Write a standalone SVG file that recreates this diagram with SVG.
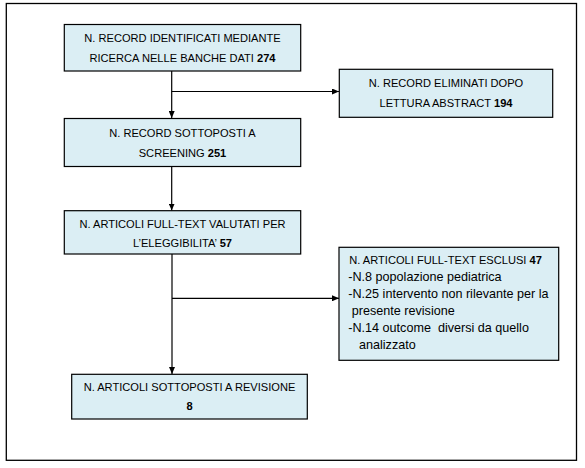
<svg xmlns="http://www.w3.org/2000/svg" width="585" height="468" viewBox="0 0 585 468">
<style>
.box{fill:#DBEEF4;stroke:#000;stroke-width:1.2}
.t{font-family:"Liberation Sans",Arial,sans-serif;font-size:11.1px;fill:#000}
.s{font-size:12.6px}
.c{text-anchor:middle}
.b{font-weight:bold}
.ln{stroke:#000;stroke-width:1.2;fill:none}
</style>
<defs>
<marker id="ah" markerWidth="7" markerHeight="6" refX="7" refY="3" orient="auto" markerUnits="userSpaceOnUse">
<path d="M0,0 L7,3 L0,6 Z" fill="#000"/>
</marker>
</defs>
<rect x="6.3" y="3.5" width="570.2" height="456.8" fill="#fff" stroke="#000" stroke-width="1.3"/>
<g id="connectors">
<line class="ln" x1="171.7" y1="71" x2="171.7" y2="118" marker-end="url(#ah)"/>
<polyline class="ln" points="171.7,91.5 339,91.5" marker-end="url(#ah)"/>
<line class="ln" x1="171.7" y1="166.7" x2="171.7" y2="210.5" marker-end="url(#ah)"/>
<line class="ln" x1="172" y1="254" x2="172" y2="374" marker-end="url(#ah)"/>
<polyline class="ln" points="172,298.3 339,298.3" marker-end="url(#ah)"/>
</g>
<g id="n1">
<rect class="box" x="64.3" y="24.5" width="236.4" height="46.5"/>
<text class="t c" x="182.5" y="41.7">N. RECORD IDENTIFICATI MEDIANTE</text>
<text class="t c" x="182.5" y="62">RICERCA NELLE BANCHE DATI <tspan class="b">274</tspan></text>
</g>
<g id="n2">
<rect class="box" x="339.3" y="69.3" width="213.4" height="48"/>
<text class="t c" x="446" y="87.3">N. RECORD ELIMINATI DOPO</text>
<text class="t c" x="446" y="106.7">LETTURA ABSTRACT <tspan class="b">194</tspan></text>
</g>
<g id="n3">
<rect class="box" x="64.3" y="118.5" width="236.4" height="48"/>
<text class="t c" x="182.5" y="136.7">N. RECORD SOTTOPOSTI A</text>
<text class="t c" x="182.5" y="156.7">SCREENING <tspan class="b">251</tspan></text>
</g>
<g id="n4">
<rect class="box" x="64.3" y="210.7" width="236.4" height="43.3"/>
<text class="t c" x="182.5" y="227.7">N. ARTICOLI FULL-TEXT VALUTATI PER</text>
<text class="t c" x="182.5" y="247.3">L’ELEGGIBILITA’ <tspan class="b">57</tspan></text>
</g>
<g id="n5">
<rect class="box" x="339" y="247.3" width="219.7" height="113"/>
<text class="t" x="349.3" y="264">N. ARTICOLI FULL-TEXT ESCLUSI <tspan class="b">47</tspan></text>
<text class="t s" x="348.3" y="281">-N.8 popolazione pediatrica</text>
<text class="t s" x="348.3" y="298">-N.25 intervento non rilevante per la</text>
<text class="t s" x="348.3" y="315">&#160;presente revisione</text>
<text class="t s" x="348.3" y="332">-N.14 outcome&#160; diversi da quello</text>
<text class="t s" x="352" y="349">&#160;&#160;analizzato</text>
</g>
<g id="n6">
<rect class="box" x="71.7" y="374.3" width="235.6" height="44.7"/>
<text class="t c" x="189.5" y="391">N. ARTICOLI SOTTOPOSTI A REVISIONE</text>
<text class="t c b" x="189.5" y="410">8</text>
</g>
</svg>
